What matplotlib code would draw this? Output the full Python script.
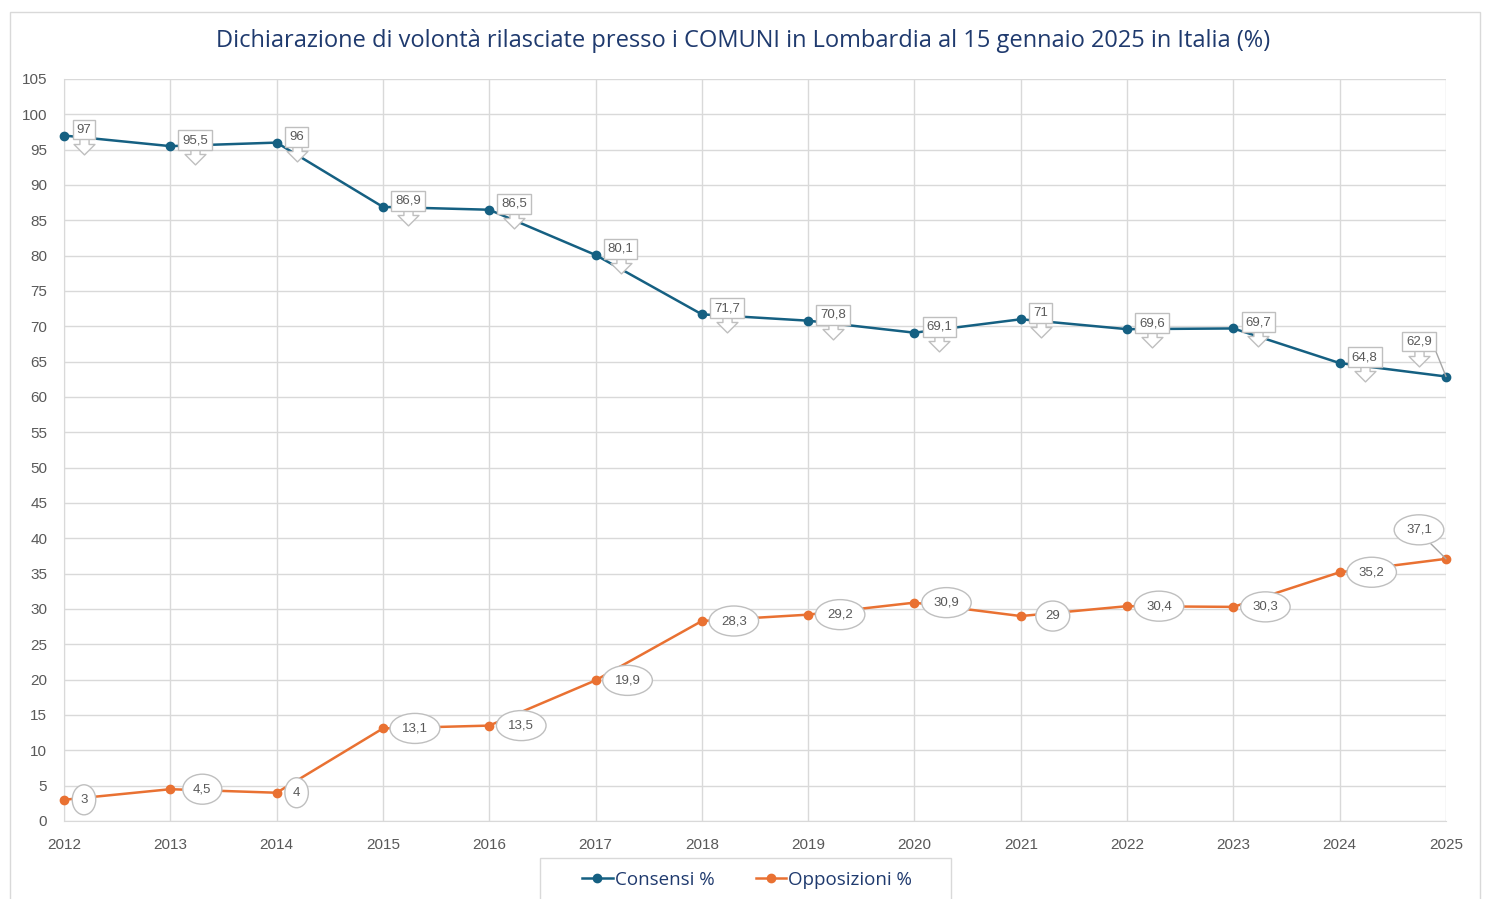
import numpy as np
import matplotlib
matplotlib.use("Agg")
import matplotlib.pyplot as plt
from matplotlib.path import Path
from matplotlib.patches import Rectangle
from matplotlib.transforms import offset_copy

years = [2012, 2013, 2014, 2015, 2016, 2017, 2018, 2019, 2020, 2021, 2022, 2023, 2024, 2025]
consensi = [97, 95.5, 96, 86.9, 86.5, 80.1, 71.7, 70.8, 69.1, 71, 69.6, 69.7, 64.8, 62.9]
opposizioni = [3, 4.5, 4, 13.1, 13.5, 19.9, 28.3, 29.2, 30.9, 29, 30.4, 30.3, 35.2, 37.1]

title = "Dichiarazione di volontà rilasciate presso i COMUNI in Lombardia al 15 gennaio 2025 in Italia (%)"
blue = "#156082"
orange = "#E97132"
navy = "#1F3A6E"
grid_c = "#D9D9D9"
label_c = "#595959"


def fmt(v):
    s = f"{v:g}"
    return s.replace(".", ",")


fig = plt.figure(figsize=(14.87, 8.99), dpi=100)
ax = fig.add_axes([64 / 1487, 1 - 821 / 899, (1446 - 64) / 1487, (821 - 79) / 899])

# outer chart border and legend frame
fig.patches.append(Rectangle((10 / 1487, -0.01), 1470 / 1487, 1 - 12 / 899 + 0.01,
                             transform=fig.transFigure, fill=False, ec=grid_c, lw=1))
fig.patches.append(Rectangle((540 / 1487, -0.01), 411 / 1487, 0.01 + 1 - 858 / 899,
                             transform=fig.transFigure, fill=False, ec=grid_c, lw=1))

ax.plot(years, consensi, color=blue, lw=1.8, marker="o", ms=6, label="Consensi %", zorder=3,
        clip_on=False)
ax.plot(years, opposizioni, color=orange, lw=1.8, marker="o", ms=6, label="Opposizioni %", zorder=3,
        clip_on=False)

ax.set_xlim(2012, 2025)
ax.set_ylim(0, 105)
ax.set_xticks(years)
ax.set_yticks(np.arange(0, 106, 5))
ax.grid(True, color=grid_c, lw=1)
ax.set_axisbelow(True)
for s in ax.spines.values():
    s.set_visible(False)
ax.spines["left"].set_visible(True)
ax.spines["left"].set_color(grid_c)
ax.spines["bottom"].set_visible(True)
ax.spines["bottom"].set_color(grid_c)
ax.tick_params(length=0, labelsize=11, labelcolor=label_c, pad=12)
ax.tick_params(axis="y", pad=12)
for lab in ax.get_xticklabels() + ax.get_yticklabels():
    lab.set_fontfamily("Liberation Sans")

# down-arrow callout shape for the blue labels
arrow_verts = [(-0.22, 0.5), (0.22, 0.5), (0.22, 0.0), (0.5, 0.0), (0.0, -0.5),
               (-0.5, 0.0), (-0.22, 0.0), (-0.22, 0.5)]
arrow_marker = Path(arrow_verts, closed=True)

box_kw = dict(boxstyle="square,pad=0.3", fc="white", ec="#BFBFBF", lw=1)
ell_kw = dict(boxstyle="ellipse,pad=0.35", fc="white", ec="#BFBFBF", lw=1)

for i, (x, v) in enumerate(zip(years, consensi)):
    if i == len(years) - 1:
        dx, dy = -27, 35
        ax.annotate(fmt(v), xy=(x, v), xytext=(dx, dy), textcoords="offset pixels",
                    ha="center", va="center", fontsize=9.5, color=label_c,
                    fontfamily="Liberation Sans", bbox=box_kw, zorder=6,
                    arrowprops=dict(arrowstyle="-", color="#A6A6A6", lw=1,
                                    relpos=(1.0, 0.5), shrinkA=0, shrinkB=0))
    else:
        dx = 20 if len(fmt(v)) <= 2 else 25
        dy = 6
        ax.annotate(fmt(v), xy=(x, v), xytext=(dx, dy), textcoords="offset pixels",
                    ha="center", va="center", fontsize=9.5, color=label_c,
                    fontfamily="Liberation Sans", bbox=box_kw, zorder=6)
    tr = offset_copy(ax.transData, fig=fig, x=dx, y=dy - 14, units="dots")
    ax.plot([x], [v], marker=arrow_marker, ms=15, mfc="white", mec="#BFBFBF", mew=1,
            transform=tr, zorder=5, clip_on=False, ls="none")

for i, (x, v) in enumerate(zip(years, opposizioni)):
    txt = fmt(v)
    if i == len(years) - 1:
        ax.annotate(txt, xy=(x, v), xytext=(-27, 29), textcoords="offset pixels",
                    ha="center", va="center", fontsize=9.5, color=label_c,
                    fontfamily="Liberation Sans", bbox=ell_kw, zorder=6,
                    arrowprops=dict(arrowstyle="-", color="#A6A6A6", lw=1,
                                    relpos=(0.65, 0.0), shrinkA=0, shrinkB=0))
    else:
        dx = 20 if len(txt) == 1 else 32
        ax.annotate(txt, xy=(x, v), xytext=(dx, 0), textcoords="offset pixels",
                    ha="center", va="center", fontsize=9.5, color=label_c,
                    fontfamily="Liberation Sans", bbox=ell_kw, zorder=6)

fig.text(0.5, 1 - 41 / 899, title, ha="center", va="center", fontsize=17,
         color=navy, fontfamily="Open Sans")

leg = fig.legend(loc="center", bbox_to_anchor=(747 / 1487, 1 - 880 / 899), ncol=2,
                 frameon=False, handlelength=1.65, handletextpad=0.1, columnspacing=2.2,
                 borderaxespad=0, prop={"family": "Open Sans", "size": 13.5})
for t in leg.get_texts():
    t.set_color(navy)

fig.savefig("out.png", dpi=100)
